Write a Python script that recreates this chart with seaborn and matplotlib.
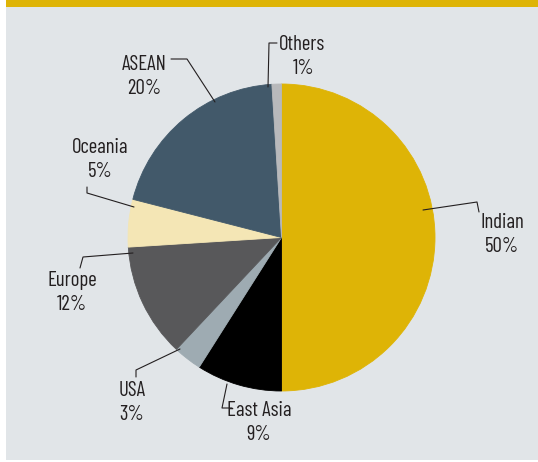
import matplotlib
matplotlib.use("Agg")
import matplotlib.pyplot as plt
from matplotlib.patches import Rectangle
import seaborn as sns

# ---- data ----
regions = ["Indian", "East Asia", "USA", "Europe", "Oceania", "ASEAN", "Others"]
shares = [50, 9, 3, 12, 5, 20, 1]
colors = ["#DEB406", "#000000", "#9EABB2", "#58585A", "#F4E6B5", "#42596A", "#B8B9BB"]

# ---- layout (pixel coordinates) ----
center = (281.5, 237.5)
radius = 153.5
name_pos = {"Indian": (502, 222.5), "East Asia": (259, 411), "USA": (132, 390),
            "Europe": (72, 281), "Oceania": (100, 147.5), "ASEAN": (144, 65),
            "Others": (302.5, 45)}
pct_dy = 24
leaders = {
    "Indian": [(423, 210), (477, 202), (479, 212)],
    "East Asia": [(227, 384), (222, 408), (232, 408)],
    "USA": [(180, 349), (136, 370), (136, 377)],
    "Europe": [(133, 253), (83, 257), (80, 268)],
    "Oceania": [(134, 207), (87, 193), (87, 187)],
    "ASEAN": [(215, 102), (187, 59), (171, 59)],
    "Others": [(268, 87), (269, 43), (277, 43)],
}

sns.set_theme(style="white")
plt.rcParams["font.family"] = ["Barlow Condensed", "DejaVu Sans"]

fig = plt.figure(figsize=(5.38, 4.62), dpi=100, facecolor="white")
ax = fig.add_axes([0, 0, 1, 1])
ax.add_patch(Rectangle((6, 7), 532, 453, facecolor="#E1E5E8", edgecolor="none", zorder=0))
ax.add_patch(Rectangle((6, 0), 532, 7, facecolor="#DEB406", edgecolor="none", zorder=0))

wedges, _ = ax.pie(shares, colors=colors, startangle=-90, counterclock=True,
                   center=center, radius=radius, frame=True,
                   wedgeprops=dict(linewidth=0.6))
for w in wedges:
    w.set_edgecolor(w.get_facecolor())

ink = "#231F20"
for name, val in zip(regions, shares):
    pts = leaders[name]
    ax.plot([p[0] for p in pts], [p[1] for p in pts], color=ink, lw=0.8, zorder=5)
    x, y = name_pos[name]
    ax.text(x, y, name, ha="center", va="center", fontsize=15, color=ink)
    ax.text(x + (1.5 if name == "Others" else 0), y + pct_dy, f"{val}%",
            ha="center", va="center", fontsize=15, color=ink)

ax.set_xlim(0, 538)
ax.set_ylim(462, 0)
ax.set_aspect("auto")
ax.axis("off")
fig.savefig("out.png", dpi=100, facecolor="white")
